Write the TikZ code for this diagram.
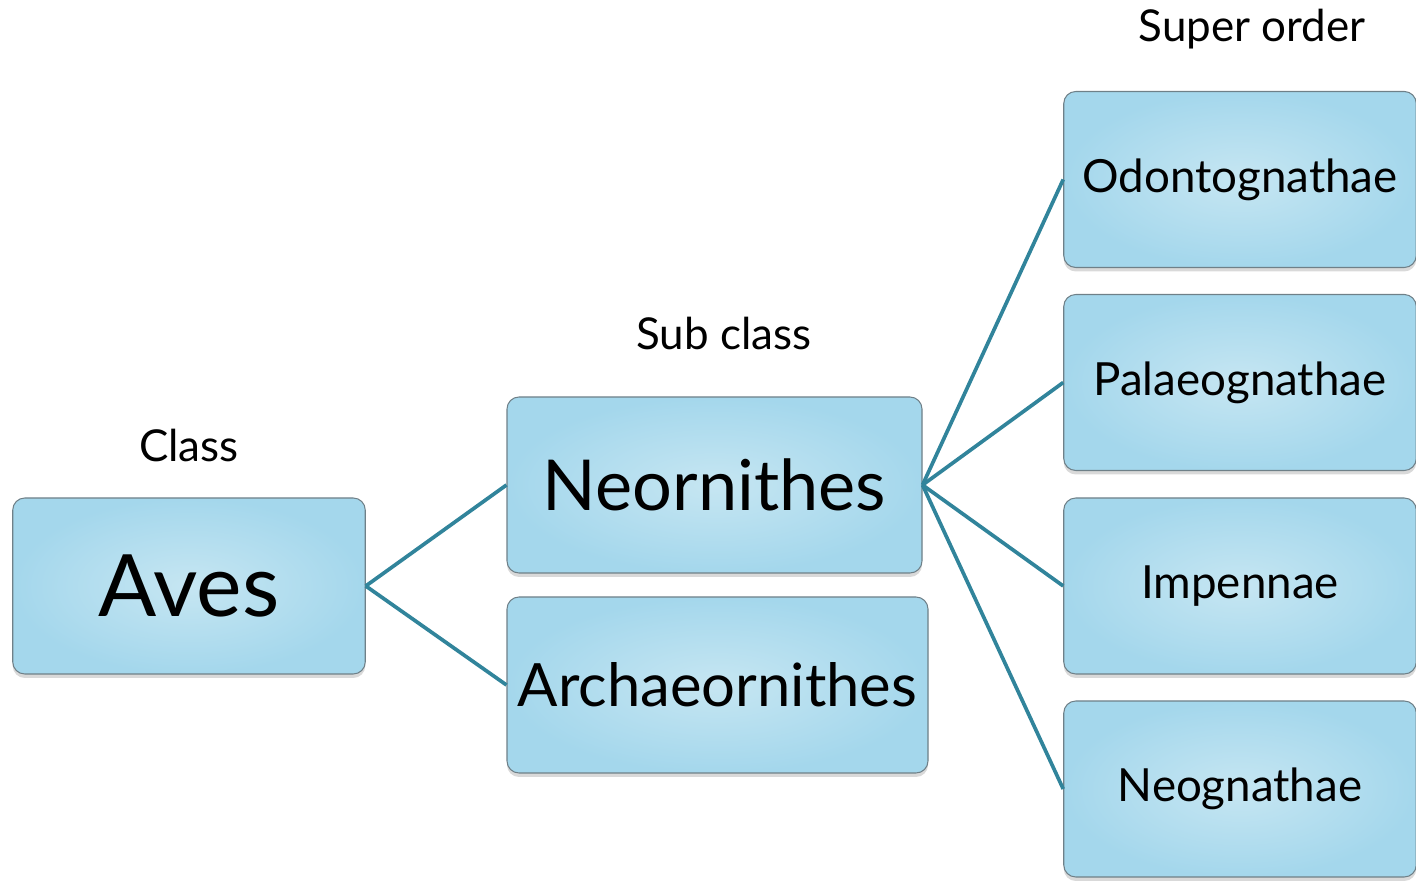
\documentclass[tikz,border=0pt]{standalone}
\usepackage{fontspec}
\setmainfont{Lato}
\usetikzlibrary{positioning, shadows}

\definecolor{boxin}{HTML}{C6E6F2}
\definecolor{boxout}{HTML}{A4D7EC}
\definecolor{boxline}{HTML}{6F8088}
\definecolor{linkcol}{HTML}{31849B}

\begin{document}
\begin{tikzpicture}[on grid, node distance=4cm,
    taxon/.style={rectangle, rounded corners=0.24cm, draw=boxline, line width=0.6pt,
        inner color=boxin, outer color=boxout, text=black, inner sep=0pt,
        minimum width=7.05cm, minimum height=3.52cm,
        drop shadow={shadow xshift=0pt, shadow yshift=-0.08cm, opacity=0.3}},
    order/.style={taxon, font=\fontsize{26}{31}\selectfont},
    rank/.style={font=\fontsize{25}{30}\selectfont},
    link/.style={draw=linkcol, line width=2.1pt}]
    \useasboundingbox (-3.78,-5.9) rectangle (24.54,11.72);

    % Nodes
    \node[taxon, font=\fontsize{49}{55}\selectfont] (aves) {Aves};
    \node[taxon, minimum width=8.3cm, font=\fontsize{40}{46}\selectfont] (neo)
        [above right=2.02 and 10.51 of aves] {Neornithes};
    \node[taxon, minimum width=8.42cm, font=\fontsize{34}{40}\selectfont] (arch)
        [below right=4.0 and 0.06 of neo] {Archaeornithes};
    \node[order] (imp) [right=21.02 of aves] {Impennae};
    \node[order] (pal) [above=4.07 of imp] {Palaeognathae};
    \node[order] (odo) [above=4.06 of pal] {Odontognathae};
    \node[order] (neog) [below=4.06 of imp] {Neognathae};

    % Rank labels
    \node[rank] (cls) [above=2.8 of aves] {Class};
    \node[rank] (subcls) [above right=3.02 and 0.19 of neo] {Sub class};
    \node[rank] (supord) [above right=3.0 and 0.24 of odo] {Super order};

    % Links
    \path[link]
        (aves.east) edge (neo.west)
                    edge (arch.west)
        (neo.east)  edge (odo.west)
                    edge (pal.west)
                    edge (imp.west)
                    edge (neog.west);
\end{tikzpicture}
\end{document}
